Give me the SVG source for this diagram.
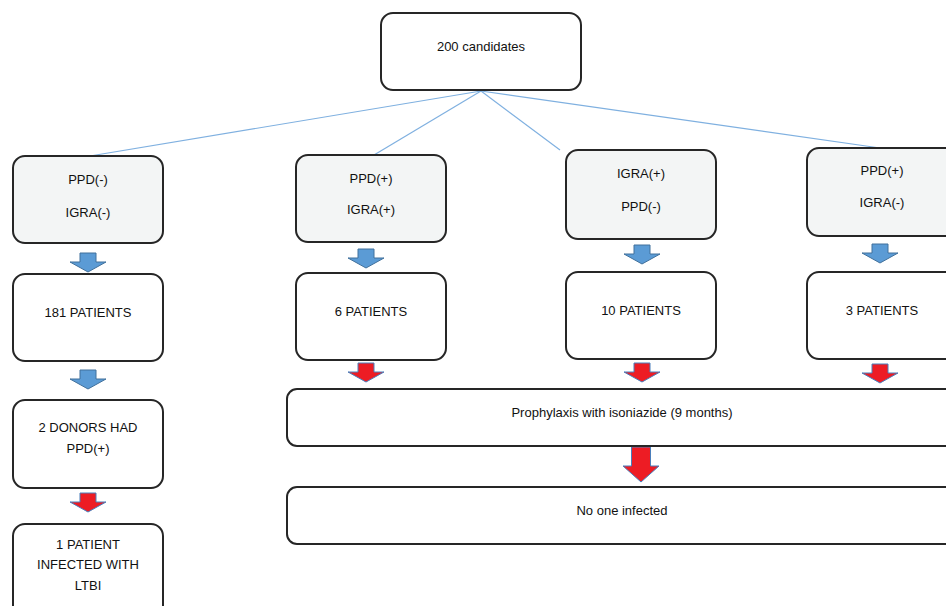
<svg xmlns="http://www.w3.org/2000/svg" width="946" height="606" viewBox="0 0 946 606">
<style>
.box{fill:#ffffff;stroke:#262626;stroke-width:2}
.gbox{fill:#f3f5f5;stroke:#262626;stroke-width:2}
text{font-family:"Liberation Sans",Arial,sans-serif;font-size:13px;fill:#111;text-anchor:middle}
.link{stroke:#7fb0e0;stroke-width:1.2;fill:none}
.ab{fill:#5b9bd5;stroke:#41719c;stroke-width:1}
.ar{fill:#ed1c24;stroke:#4a7ebb;stroke-width:1}
</style>
<defs>
<path id="sa" d="M-8,0 H8 V9 H18 L0,19 L-18,9 H-8 Z"/>
<path id="ba" d="M-9.5,0 H9.5 V19 H18 L0,35 L-18,19 H-9.5 Z"/>
</defs>
<rect width="946" height="606" fill="#ffffff"/>
<g id="connectors">
<line class="link" x1="481" y1="91" x2="90" y2="156"/>
<line class="link" x1="481" y1="91" x2="374" y2="155"/>
<line class="link" x1="481" y1="91" x2="560" y2="150"/>
<line class="link" x1="481" y1="91" x2="880" y2="148"/>
<use href="#sa" class="ab" x="88" y="253"/>
<use href="#sa" class="ab" x="88" y="370"/>
<use href="#sa" class="ar" x="88" y="493"/>
<use href="#sa" class="ab" x="366" y="249"/>
<use href="#sa" class="ar" x="366" y="363"/>
<use href="#sa" class="ab" x="642" y="245"/>
<use href="#sa" class="ar" x="642" y="363"/>
<use href="#sa" class="ab" x="880" y="244"/>
<use href="#sa" class="ar" x="880" y="364"/>
<use href="#ba" class="ar" x="641" y="447"/>
</g>
<g id="n-root"><rect class="box" x="381" y="13" width="200" height="77" rx="12"/><text x="481" y="51">200 candidates</text></g>
<g id="n-c1a"><rect class="gbox" x="13" y="156" width="150" height="87" rx="12"/><text x="88" y="184">PPD(-)</text><text x="88" y="217">IGRA(-)</text></g>
<g id="n-c1b"><rect class="box" x="13" y="274" width="150" height="87" rx="12"/><text x="88" y="317">181 PATIENTS</text></g>
<g id="n-c1c"><rect class="box" x="13" y="400" width="150" height="88" rx="12"/><text x="88" y="432">2 DONORS HAD</text><text x="88" y="453">PPD(+)</text></g>
<g id="n-c1d"><rect class="box" x="13" y="524" width="150" height="100" rx="12"/><text x="88" y="549">1 PATIENT</text><text x="88" y="569">INFECTED WITH</text><text x="88" y="590">LTBI</text></g>
<g id="n-c2a"><rect class="gbox" x="296" y="155" width="150" height="87" rx="12"/><text x="371" y="183">PPD(+)</text><text x="371" y="214">IGRA(+)</text></g>
<g id="n-c2b"><rect class="box" x="296" y="273" width="150" height="87" rx="12"/><text x="371" y="316">6 PATIENTS</text></g>
<g id="n-c3a"><rect class="gbox" x="566" y="150" width="150" height="89" rx="12"/><text x="641" y="178">IGRA(+)</text><text x="641" y="211">PPD(-)</text></g>
<g id="n-c3b"><rect class="box" x="566" y="272" width="150" height="87" rx="12"/><text x="641" y="315">10 PATIENTS</text></g>
<g id="n-c4a"><rect class="gbox" x="807" y="148" width="150" height="88" rx="12"/><text x="882" y="175">PPD(+)</text><text x="882" y="207">IGRA(-)</text></g>
<g id="n-c4b"><rect class="box" x="807" y="272" width="150" height="87" rx="12"/><text x="882" y="315">3 PATIENTS</text></g>
<g id="n-proph"><rect class="box" x="287" y="389" width="670" height="57" rx="10"/><text x="622" y="417">Prophylaxis with isoniazide (9 months)</text></g>
<g id="n-none"><rect class="box" x="287" y="487" width="670" height="57" rx="10"/><text x="622" y="515">No one infected</text></g>
</svg>
